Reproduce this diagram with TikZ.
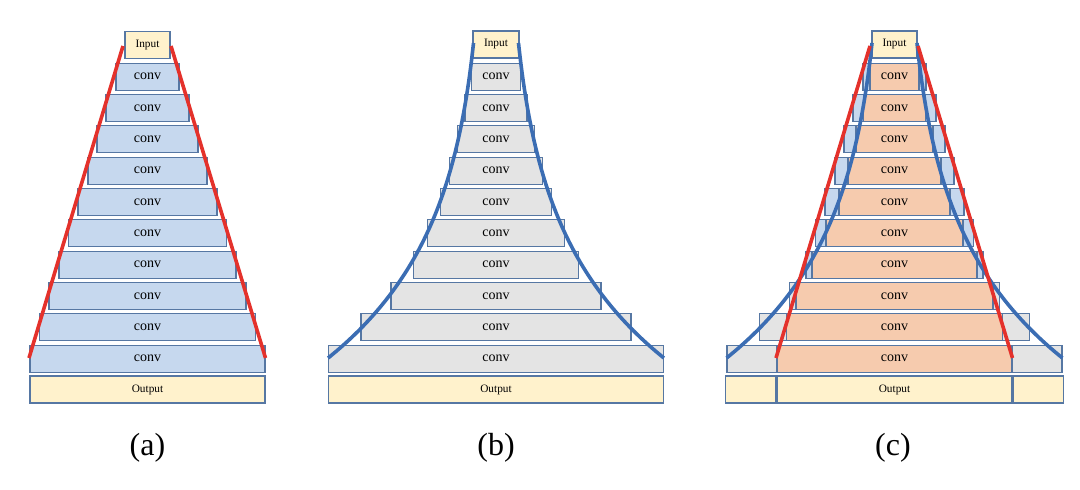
\documentclass[tikz,border=0pt]{standalone}
\usepackage{fontspec}
\setmainfont{Liberation Serif}
\definecolor{fillblue}{HTML}{C6D8EE}
\definecolor{fillgray}{HTML}{E4E4E4}
\definecolor{fillyellow}{HTML}{FFF2CC}
\definecolor{fillorange}{HTML}{F6CBAE}
\definecolor{edge}{HTML}{5677A3}
\definecolor{linered}{HTML}{E4312B}
\definecolor{lineblue}{HTML}{3B6DB3}
\begin{document}
\begin{tikzpicture}[x=1pt,y=-1pt,
  layerbox/.style={draw=edge, line width=1.1pt, inner sep=0pt, minimum height=27pt,
    font=\fontsize{14}{16}\selectfont},
  iobox/.style={layerbox, fill=fillyellow, font=\fontsize{11.3}{13}\selectfont},
  redline/.style={draw=linered, line width=3.6pt},
  blueline/.style={draw=lineblue, line width=3.6pt},
  caption/.style={font=\fontsize{32}{38}\selectfont, inner sep=0pt}]
\useasboundingbox (0,0) rectangle (1080,490);

% ---------- inputs ----------
\node[iobox, minimum width=45pt] (ina) at (147.5,45) {Input};
\node[iobox, minimum width=46pt] (inb) at (496,44.5) {Input};
\node[iobox, minimum width=45pt] (inc) at (894.5,44.5) {Input};

% ---------- layers ----------
\foreach \i/\ha/\hb/\cc in {1/31.5/24.5/fillblue, 2/41.5/31/fillblue, 3/50.5/38.5/fillblue,
  4/59.5/46.5/fillblue, 5/69.5/55.5/fillblue, 6/79/68.5/fillblue, 7/88.5/82.5/fillblue,
  8/98.5/105/fillgray, 9/108/135/fillgray, 10/117.5/167.5/fillgray} {
  \pgfmathsetmacro\yy{76.7+31.33*(\i-1)}
  \pgfmathsetmacro\wa{2*\ha}
  \pgfmathsetmacro\wb{2*\hb}
  \pgfmathsetmacro\wo{2*max(\ha,\hb)}
  \pgfmathsetmacro\wi{2*min(\ha,\hb)}
  \node[layerbox, fill=fillblue, minimum width=\wa pt] (a\i) at (147.5,\yy) {conv};
  \node[layerbox, fill=fillgray, minimum width=\wb pt] (b\i) at (496,\yy) {conv};
  \node[layerbox, fill=\cc, minimum width=\wo pt] (c\i) at (894.5,\yy) {};
  \node[layerbox, fill=fillorange, minimum width=\wi pt] (ci\i) at (894.5,\yy) {conv};
}

% ---------- outputs ----------
\node[iobox, minimum width=235pt] (outa) at (147.5,389.5) {Output};
\node[iobox, minimum width=335pt] (outb) at (496,389.5) {Output};
\node[iobox, minimum width=235pt] (outc) at (894.5,389.5) {Output};
\node[iobox, minimum width=50pt, anchor=east] (outcl) at (outc.west) {};
\node[iobox, minimum width=50pt, anchor=west] (outcr) at (outc.east) {};

% ---------- blue curves ----------
\foreach \cx/\nm in {496/b, 894.5/c} {
  \draw[blueline] plot[domain=43:358, samples=50, smooth]
    ({\cx-(22.5+13.64*(exp(0.0078*(\x-43))-1))}, \x);
  \draw[blueline] plot[domain=43:358, samples=50, smooth]
    ({\cx+(22.5+13.64*(exp(0.0078*(\x-43))-1))}, \x);
}

% ---------- red lines ----------
\coordinate (ral) at (123,46);  \coordinate (rab) at (29,358);
\coordinate (rar) at (171,46);  \coordinate (rabr) at (265.5,358);
\coordinate (rcl) at (870,46);  \coordinate (rcb) at (776,358);
\coordinate (rcr) at (918,46);  \coordinate (rcbr) at (1012.5,358);
\draw[redline] (ral) -- (rab);
\draw[redline] (rar) -- (rabr);
\draw[redline] (rcl) -- (rcb);
\draw[redline] (rcr) -- (rcbr);

% ---------- captions ----------
\node[caption] (capa) at (147.5,448) {(a)};
\node[caption] (capb) at (496,448) {(b)};
\node[caption] (capc) at (893,448) {(c)};
\end{tikzpicture}
\end{document}
